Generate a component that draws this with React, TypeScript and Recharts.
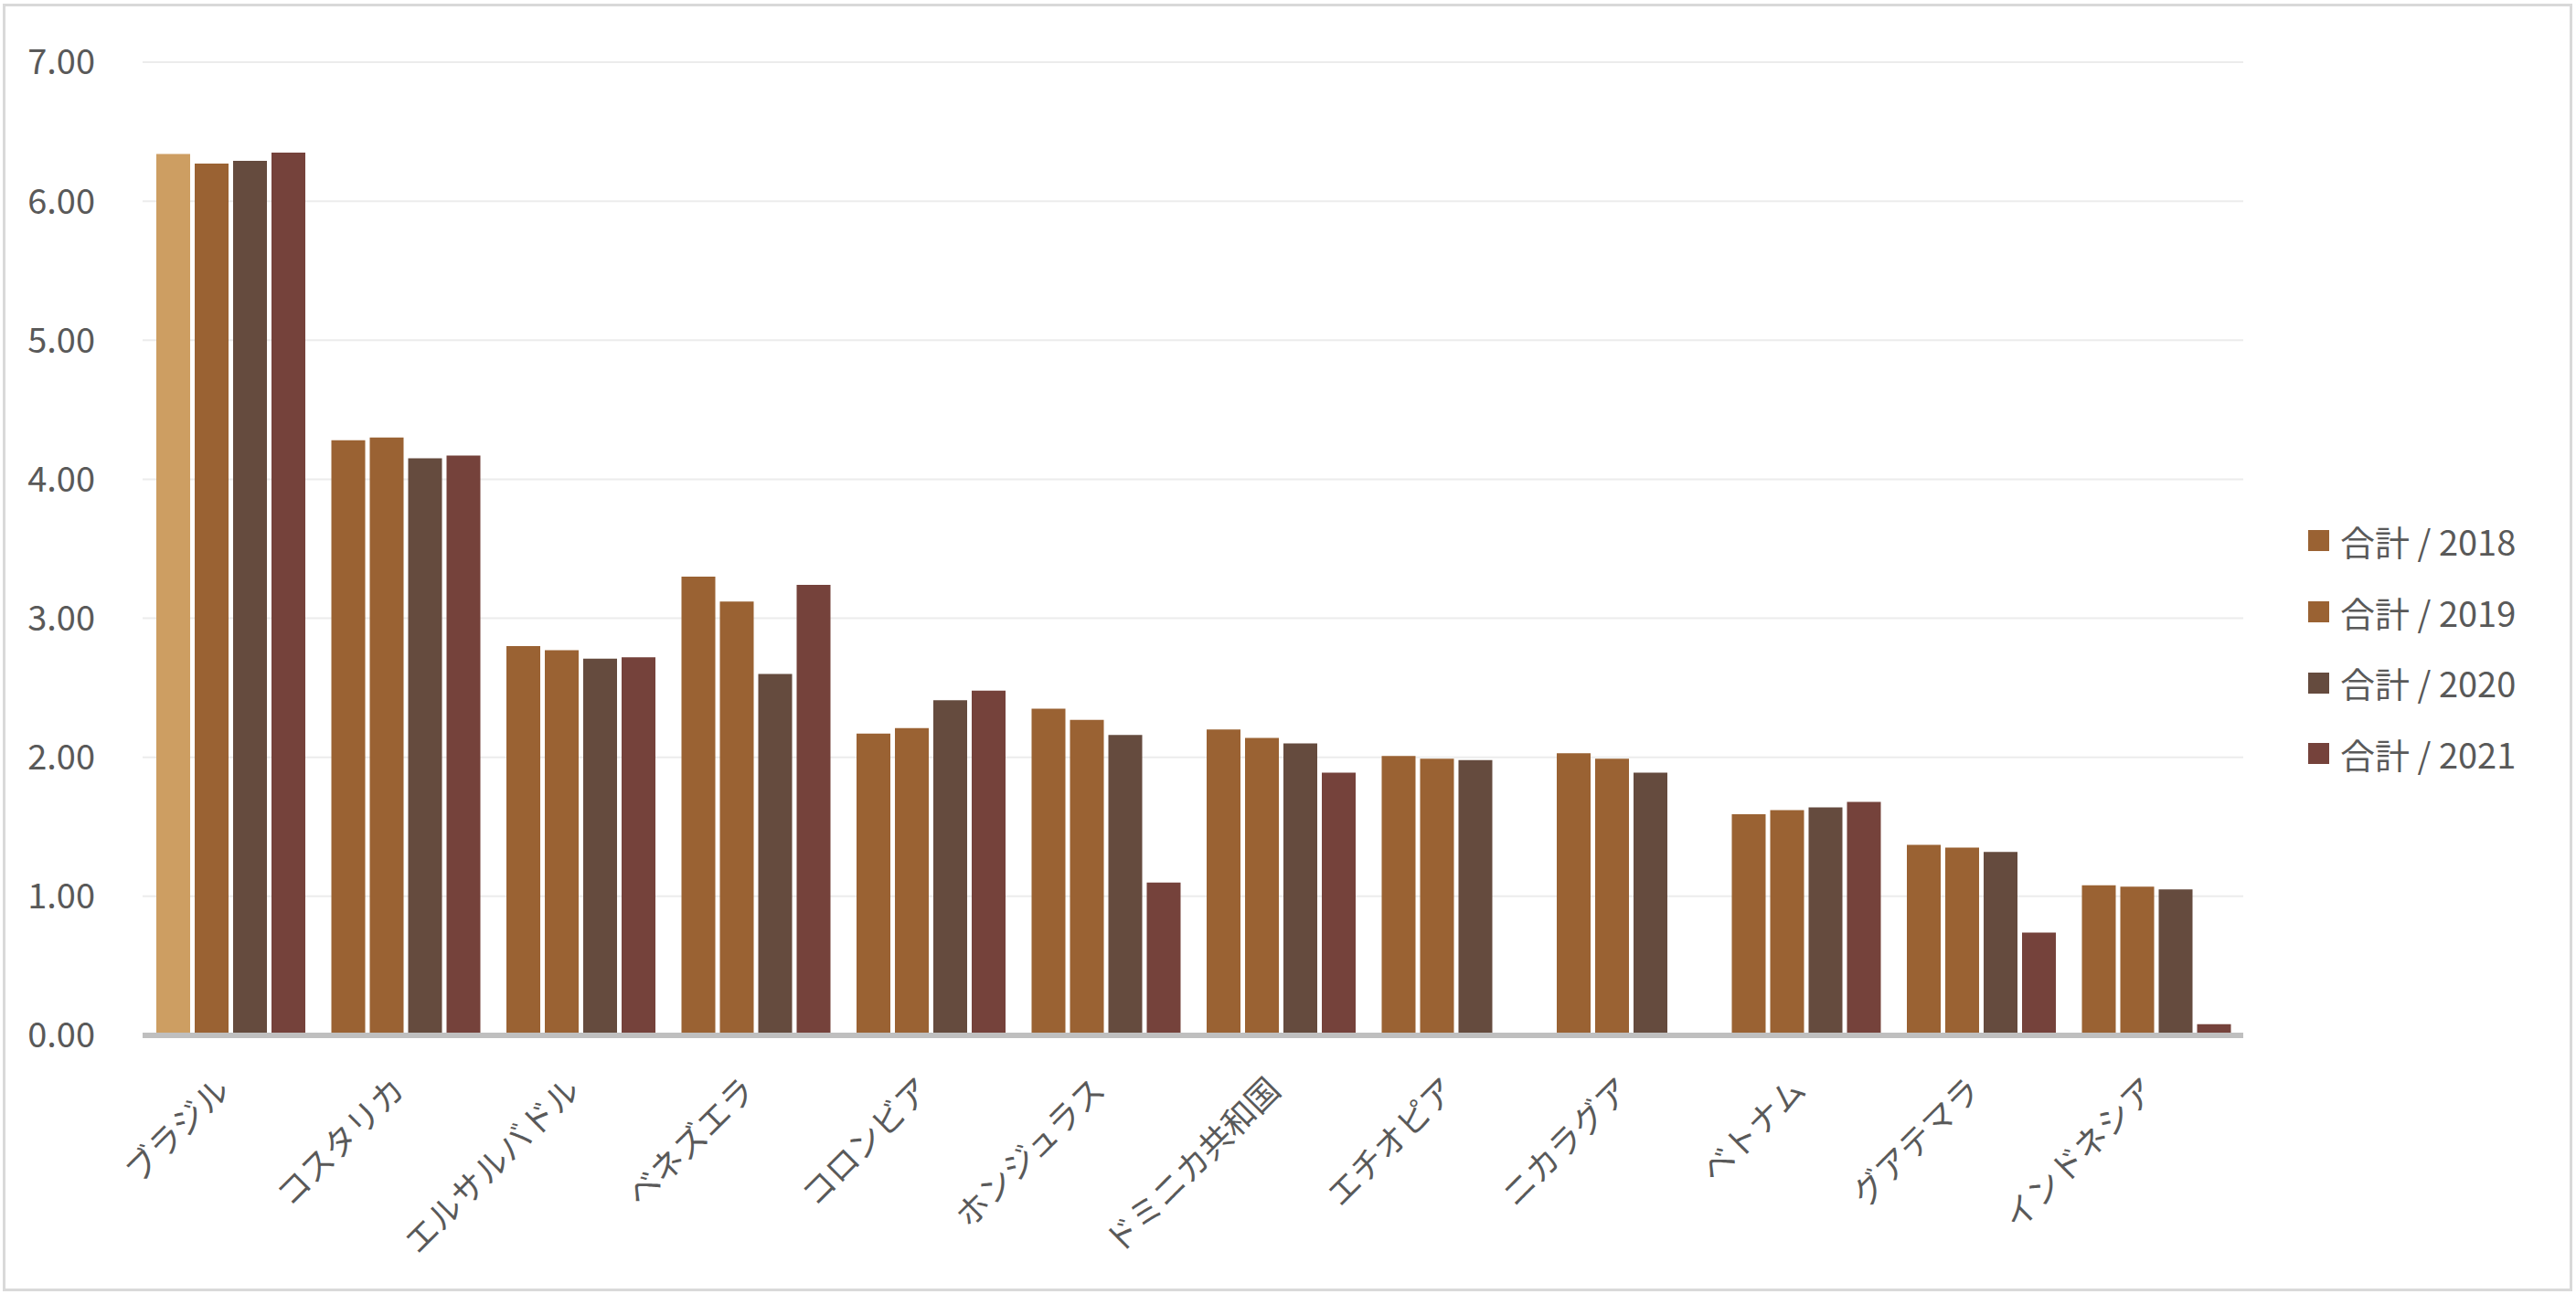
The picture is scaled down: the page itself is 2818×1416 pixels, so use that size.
import React from 'react';
import { BarChart, Bar, XAxis, YAxis, CartesianGrid, Cell } from 'recharts';

const countries = [
    'ブラジル',
    'コスタリカ',
    'エルサルバドル',
    'ベネズエラ',
    'コロンビア',
    'ホンジュラス',
    'ドミニカ共和国',
    'エチオピア',
    'ニカラグア',
    'ベトナム',
    'グアテマラ',
    'インドネシア',
];
const total2018 = [6.34, 4.28, 2.8, 3.3, 2.17, 2.35, 2.2, 2.01, 2.03, 1.59, 1.37, 1.08];
const total2019 = [6.27, 4.3, 2.77, 3.12, 2.21, 2.27, 2.14, 1.99, 1.99, 1.62, 1.35, 1.07];
const total2020 = [6.29, 4.15, 2.71, 2.6, 2.41, 2.16, 2.1, 1.98, 1.89, 1.64, 1.32, 1.05];
const total2021 = [6.35, 4.17, 2.72, 3.24, 2.48, 1.1, 1.89, null, null, 1.68, 0.74, 0.08];
const seriesNames = ['合計 / 2018', '合計 / 2019', '合計 / 2020', '合計 / 2021'];
const yTicks = [0, 1, 2, 3, 4, 5, 6, 7];

const seriesColors = ['#9a6233', '#9a6233', '#654b3e', '#75423b'];
const highlightColor = '#cd9e62';
const textColor = '#595959';
const fontFamily = "'Noto Sans CJK JP', 'Noto Sans', sans-serif";

const chartData = countries.map((name, i) => ({
    name,
    y2018: total2018[i],
    y2019: total2019[i],
    y2020: total2020[i],
    y2021: total2021[i],
}));

// ラベルは -45 度回転、末尾をカテゴリ中心に揃える
const XTick = (props: any) => {
    const { x, y, payload } = props;
    const tx = x + 2;
    const ty = y + 62;
    return (
        <text
            x={tx}
            y={ty}
            transform={`rotate(-45, ${tx}, ${ty})`}
            textAnchor='end'
            fontSize={36}
            fill={textColor}
            fontFamily={fontFamily}
        >
            {payload.value}
        </text>
    );
};

export default function App() {
    const keys = ['y2018', 'y2019', 'y2020', 'y2021'];
    return (
        <div style={{ position: 'relative', width: 2818, height: 1416, background: '#fff', fontFamily }}>
            <style>{`body { margin: 0; }`}</style>
            <div
                style={{
                    position: 'absolute',
                    left: 3,
                    top: 4,
                    width: 2811,
                    height: 1409,
                    border: '3px solid #d9d9d9',
                    boxSizing: 'border-box',
                }}
            />
            <div style={{ position: 'absolute', left: 0, top: 0 }}>
                <BarChart
                    width={2818}
                    height={1416}
                    data={chartData}
                    margin={{ top: 68, right: 364, bottom: 0, left: 0 }}
                    barCategoryGap={15}
                    barGap={5}
                >
                    <CartesianGrid vertical={false} stroke='#ececec' strokeWidth={2} />
                    <YAxis
                        width={156}
                        domain={[0, 7]}
                        ticks={yTicks}
                        interval={0}
                        axisLine={false}
                        tickLine={false}
                        tickSize={0}
                        tickMargin={52}
                        tickFormatter={(v: number) => v.toFixed(2)}
                        tick={{ fontSize: 38, fill: textColor, fontFamily }}
                    />
                    {keys.map((k, si) => (
                        <Bar key={k} dataKey={k} name={seriesNames[si]} fill={seriesColors[si]} isAnimationActive={false}>
                            {si === 0
                                ? chartData.map((_, i) => <Cell key={i} fill={i === 0 ? highlightColor : seriesColors[0]} />)
                                : null}
                        </Bar>
                    ))}
                    <XAxis
                        dataKey='name'
                        height={283}
                        interval={0}
                        tickLine={false}
                        tickSize={0}
                        tickMargin={0}
                        axisLine={{ stroke: '#bfbfbf', strokeWidth: 6 }}
                        tick={<XTick />}
                    />
                </BarChart>
            </div>
            <div style={{ position: 'absolute', left: 2525, top: 553 }}>
                {seriesNames.map((n, i) => (
                    <div key={n} style={{ display: 'flex', alignItems: 'center', height: 77.7 }}>
                        <div style={{ width: 23, height: 23, background: seriesColors[i], marginRight: 12 }} />
                        <span style={{ fontSize: 38, color: textColor, lineHeight: 1 }}>{n}</span>
                    </div>
                ))}
            </div>
        </div>
    );
}
